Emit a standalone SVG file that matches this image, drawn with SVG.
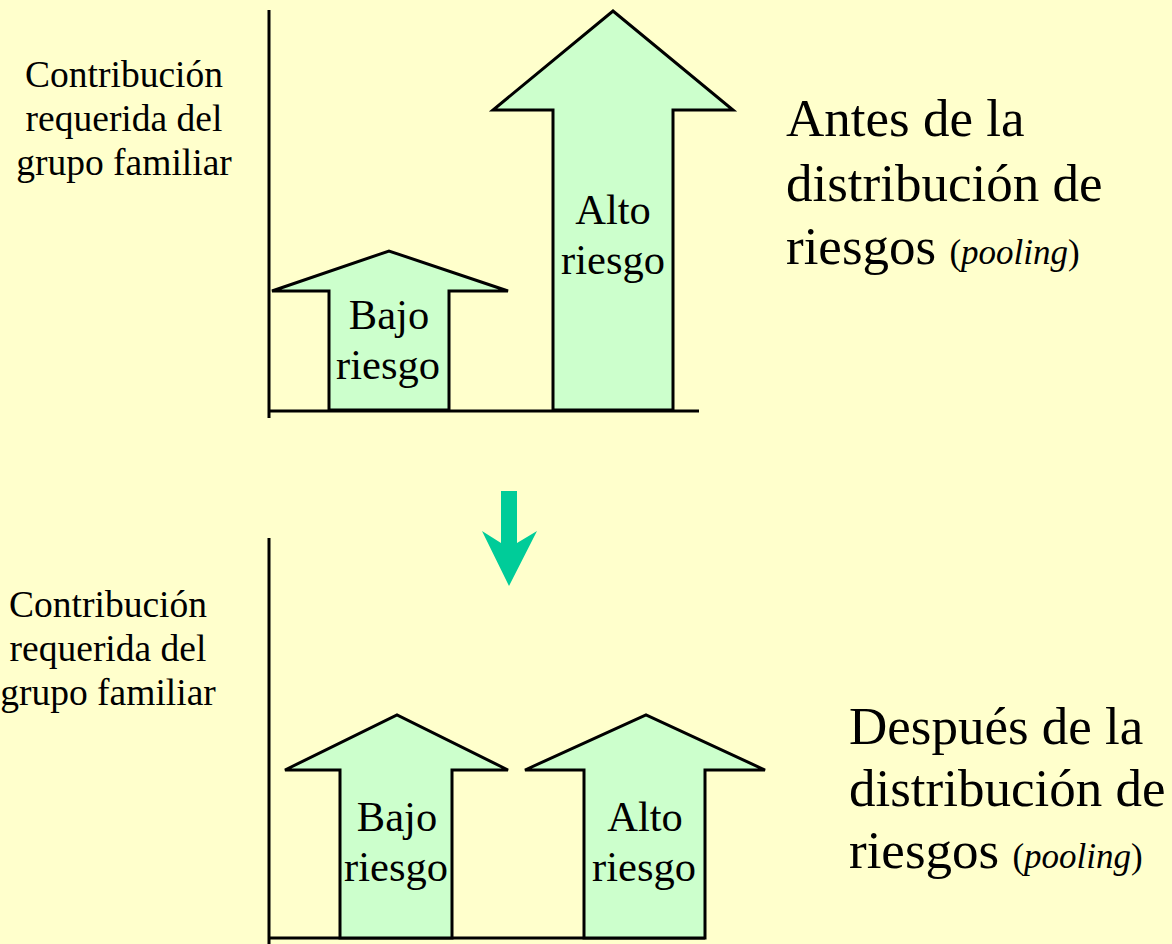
<svg xmlns="http://www.w3.org/2000/svg" width="1172" height="944" viewBox="0 0 1172 944">
<style>
.t{font-family:"Liberation Serif","Times New Roman",serif;fill:#000;text-anchor:middle}
.lbl{font-size:37.5px}
.in{font-size:42.5px}
.big{font-family:"Liberation Serif","Times New Roman",serif;fill:#000;font-size:53px}
.sm{font-size:35px}
.arrow{fill:#CCFFCC;stroke:#000;stroke-width:3;stroke-linejoin:miter}
.axis{stroke:#000;stroke-width:3;fill:none}
</style>
<rect width="1172" height="944" fill="#FFFFCC"/>
<g id="connectors">
<line class="axis" x1="269" y1="10" x2="269" y2="418"/>
<line class="axis" x1="268" y1="411" x2="699" y2="411"/>
<line class="axis" x1="269" y1="538" x2="269" y2="944"/>
<line class="axis" x1="268" y1="938" x2="705" y2="938"/>
<polygon id="down-arrow" fill="#00CC99" points="501,491 517,491 517,543 537,531 509,586 482,531 501,543"/>
</g>
<g id="label-top">
<text class="t lbl" x="124" y="87">Contribución</text>
<text class="t lbl" x="124" y="131">requerida del</text>
<text class="t lbl" x="124" y="175">grupo familiar</text>
</g>
<g id="top-bajo">
<polygon class="arrow" points="329,410 329,291 272,291 389,251 508,291 449,291 449,410"/>
<text class="t in" x="389" y="329">Bajo</text>
<text class="t in" x="388" y="379">riesgo</text>
</g>
<g id="top-alto">
<polygon class="arrow" points="553,410 553,110 493,110 613,11 733,110 673,110 673,410"/>
<text class="t in" x="613" y="224">Alto</text>
<text class="t in" x="613" y="274">riesgo</text>
</g>
<g id="title-top">
<text class="big" x="786" y="136">Antes de la</text>
<text class="big" x="786" y="201">distribución de</text>
<text class="big" x="786" y="264">riesgos <tspan class="sm">(<tspan font-style="italic">pooling</tspan>)</tspan></text>
</g>
<g id="label-bottom">
<text class="t lbl" x="108" y="617">Contribución</text>
<text class="t lbl" x="108" y="661">requerida del</text>
<text class="t lbl" x="108" y="705">grupo familiar</text>
</g>
<g id="bottom-bajo">
<polygon class="arrow" points="340,938 340,770 285,770 397,715 508,770 452,770 452,938"/>
<text class="t in" x="397" y="831">Bajo</text>
<text class="t in" x="396" y="881">riesgo</text>
</g>
<g id="bottom-alto">
<polygon class="arrow" points="584,938 584,770 525,770 646,715 765,770 705,770 705,938"/>
<text class="t in" x="645" y="831">Alto</text>
<text class="t in" x="644" y="881">riesgo</text>
</g>
<g id="title-bottom">
<text class="big" x="849" y="744">Después de la</text>
<text class="big" x="849" y="806">distribución de</text>
<text class="big" x="849" y="868">riesgos <tspan class="sm">(<tspan font-style="italic">pooling</tspan>)</tspan></text>
</g>
</svg>
